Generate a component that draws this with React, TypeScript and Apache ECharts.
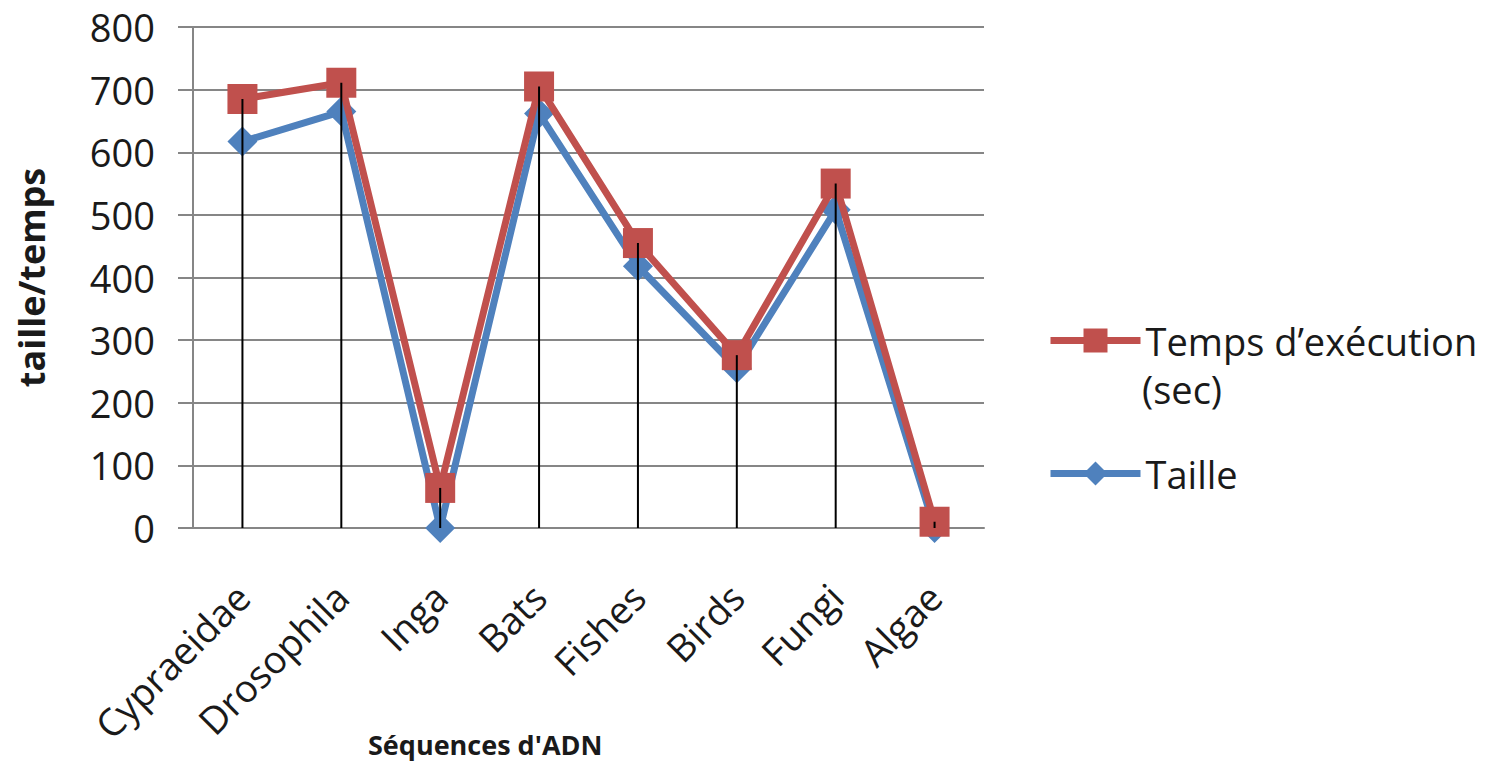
import React, { useEffect, useRef } from "react";
import * as echarts from "echarts";

const categories = ["Cypraeidae", "Drosophila", "Inga", "Bats", "Fishes", "Birds", "Fungi", "Algae"];
const taille = [617, 665, 0, 662, 418, 255, 508, 0];
const temps = [685, 711, 64, 705, 455, 276, 550, 10];
const yTicks = [0, 100, 200, 300, 400, 500, 600, 700, 800];
const nameTemps = "Temps d’exécution";
const nameTempsSuffix = "(sec)";
const nameTaille = "Taille";

const FONT = "'Open Sans', Lato, sans-serif";
const TXT = "#1a1a1a";

export default function App() {
  const ref = useRef<HTMLDivElement>(null);
  useEffect(() => {
    if (!ref.current) return;
    const chart = echarts.init(ref.current, null, { renderer: "svg" });
    const drops = categories.map((_, i) => [i, Math.max(taille[i], temps[i])]);
    chart.setOption({
      animation: false,
      backgroundColor: "#ffffff",
      grid: { left: 193, right: 513, top: 27, bottom: 244, containLabel: false, outerBoundsMode: "none" },
      legend: {
        orient: "vertical",
        left: 1047,
        top: 314,
        padding: 0,
        itemWidth: 90,
        itemHeight: 30,
        itemGap: 80,
        lineStyle: { width: 7 },
        data: [nameTemps, nameTaille],
        textStyle: { fontFamily: FONT, fontSize: 38, color: TXT, lineHeight: 53 },
      },
      xAxis: {
        type: "category",
        data: categories,
        boundaryGap: true,
        axisLine: { show: true, lineStyle: { color: "#868686", width: 2 } },
        axisTick: { show: false },
        axisLabel: {
          rotate: 45,
          interval: 0,
          margin: 62,
          fontFamily: FONT,
          fontSize: 38,
          color: TXT,
        },
        splitLine: { show: false },
      },
      yAxis: {
        type: "value",
        min: 0,
        max: 800,
        interval: 100,
        name: "taille/temps",
        nameLocation: "middle",
        nameRotate: 90,
        nameGap: 144,
        nameTextStyle: { fontFamily: FONT, fontSize: 36, fontWeight: "bold", color: TXT },
        axisLine: { show: true, lineStyle: { color: "#868686", width: 2 } },
        axisTick: { show: true, inside: false, length: 15, lineStyle: { color: "#868686", width: 2 } },
        axisLabel: {
          margin: 38,
          fontFamily: FONT,
          fontSize: 38,
          color: TXT,
          formatter: (v: number) => (yTicks.includes(v) ? String(v) : ""),
        },
        splitLine: { show: true, lineStyle: { color: "#868686", width: 2 } },
      },
      series: [
        {
          name: nameTaille,
          type: "line",
          data: taille,
          symbol: "diamond",
          symbolSize: 30,
          lineStyle: { color: "#4F81BD", width: 7 },
          itemStyle: { color: "#4F81BD" },
          z: 3,
        },
        {
          name: nameTemps,
          type: "line",
          data: temps,
          symbol: "rect",
          symbolSize: 30,
          lineStyle: { color: "#C0504D", width: 7 },
          itemStyle: { color: "#C0504D" },
          z: 4,
        },
        {
          type: "custom",
          name: "drop",
          data: drops,
          z: 10,
          silent: true,
          renderItem: (params: any, api: any) => {
            const top = api.coord([api.value(0), api.value(1)]);
            const bottom = api.coord([api.value(0), 0]);
            return {
              type: "line",
              shape: { x1: top[0], y1: top[1], x2: bottom[0], y2: bottom[1] },
              style: { stroke: "#000000", lineWidth: 2 },
            };
          },
        },
      ],
      graphic: [
        {
          type: "text",
          left: 1142,
          top: 370,
          style: {
            text: nameTempsSuffix,
            font: `38px ${FONT}`,
            fill: TXT,
          },
        },
        {
          type: "text",
          left: 368,
          top: 731,
          style: {
            text: "Séquences d'ADN",
            font: `bold 27px ${FONT}`,
            fill: TXT,
          },
        },
      ],
    });
    return () => chart.dispose();
  }, []);
  return <div ref={ref} style={{ width: 1497, height: 772, position: "absolute", left: 0, top: 0 }} />;
}
